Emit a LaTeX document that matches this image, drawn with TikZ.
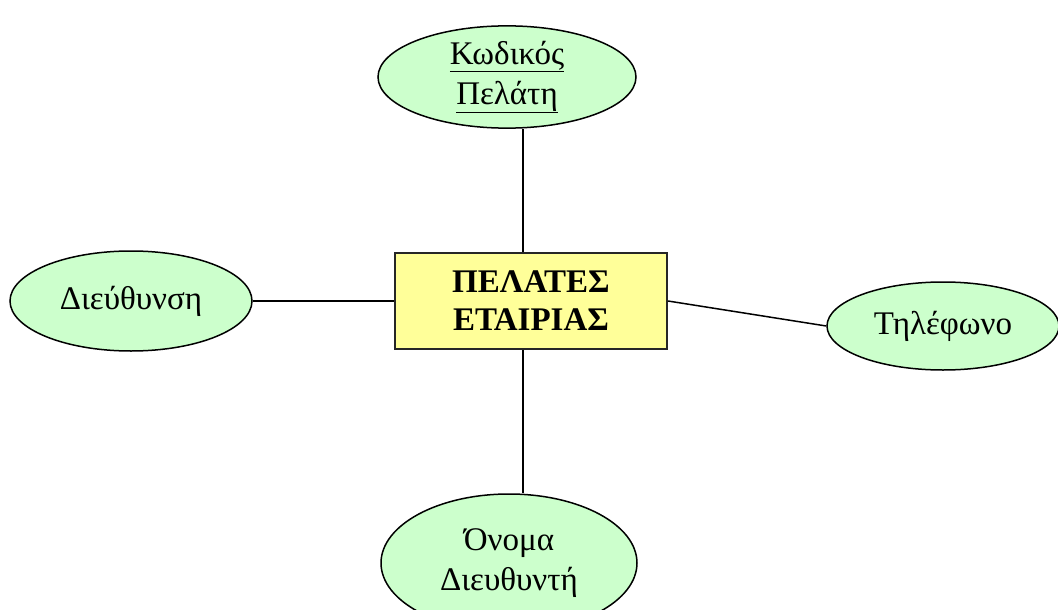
\documentclass[tikz,border=0pt]{standalone}
\usepackage{fontspec}
\setmainfont{Liberation Serif}
\usetikzlibrary{shapes.geometric}
\definecolor{attrgreen}{HTML}{CCFFCC}
\definecolor{entyellow}{HTML}{FFFF99}
\begin{document}
\begin{tikzpicture}[x=1pt,y=-1pt,
  attr/.style={ellipse, draw=black, line width=1.5pt, fill=attrgreen,
    inner sep=0pt, align=center, font=\fontsize{33}{40}\selectfont},
  entity/.style={rectangle, draw=black!85, line width=2pt, fill=entyellow,
    inner sep=0pt, align=center, font=\fontsize{33}{38}\selectfont\bfseries},
  link/.style={draw=black, line width=1.5pt}]
  \useasboundingbox (0,0) rectangle (1058,610);

  % entity
  \node[entity, minimum width=272pt, minimum height=96pt] (ent) at (531,301)
    {ΠΕΛΑΤΕΣ\\ΕΤΑΙΡΙΑΣ};

  % attributes
  \node[attr, minimum width=258pt, minimum height=100pt] (kod) at (507,77)
    {\underline{Κωδικός}\\\underline{Πελάτη}};
  \node[attr, minimum width=242pt, minimum height=100pt] (die) at (131,301)
    {Διεύθυνση};
  \node[attr, minimum width=232pt, minimum height=88pt] (tel) at (943,326)
    {Τηλέφωνο};
  \node[attr, minimum width=256pt, minimum height=138pt] (ono) at (509,563)
    {Όνομα\\Διευθυντή};

  % connectors
  \coordinate (topx) at ([xshift=-8pt]ent.north);
  \coordinate (botx) at ([xshift=-8pt]ent.south);
  \draw[link] (topx) -- (topx |- kod.south);
  \draw[link] (botx) -- (botx |- ono.north);
  \draw[link] (die.east) -- (ent.west);
  \draw[link] (ent.east) -- (tel.west);
\end{tikzpicture}
\end{document}
